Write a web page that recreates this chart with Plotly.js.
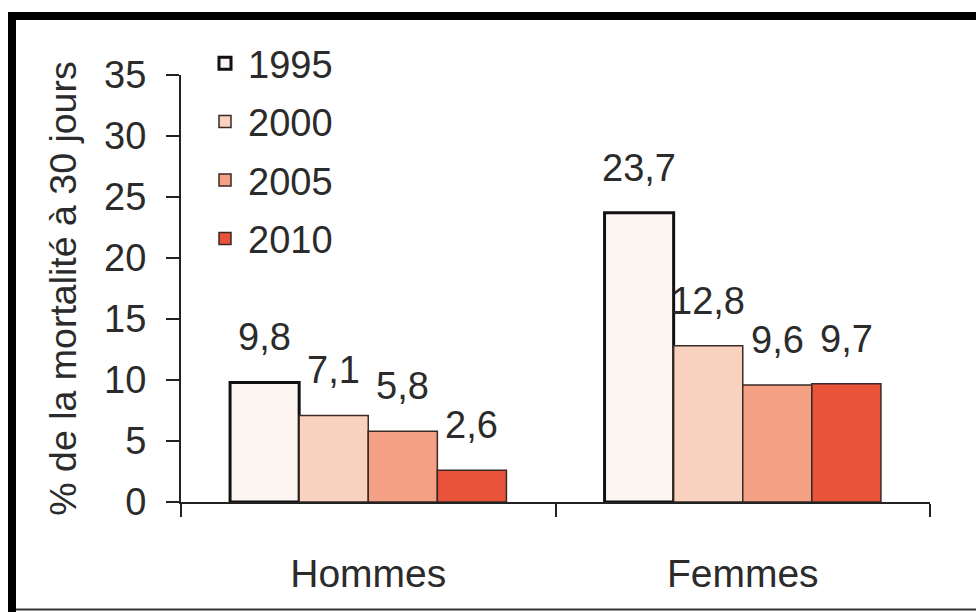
<!DOCTYPE html>
<html>
<head>
<meta charset="utf-8">
<script src="https://cdn.plot.ly/plotly-3.0.1.min.js"></script>
<style>html,body{margin:0;padding:0;background:#fff;}#chart{width:976px;height:612px;}</style>
</head>
<body>
<div id="chart"></div>
<script>
var categories = ['Hommes', 'Femmes'];
var years = ['1995', '2000', '2005', '2010'];
var values1995 = [9.8, 23.7];
var values2000 = [7.1, 12.8];
var values2005 = [5.8, 9.6];
var values2010 = [2.6, 9.7];
var yTickVals = [0, 5, 10, 15, 20, 25, 30, 35];
var yTitle = '% de la mortalité à 30 jours';

var series = [values1995, values2000, values2005, values2010];
var fills = ['#fdf5f2', '#f9d2bf', '#f3a084', '#e9533a'];
var lineCols = ['#111111', '#3a2a26', '#3a2a26', '#3a2a26'];
var lineWidths = [3, 1.5, 1.5, 1.5];

var W = 976, H = 612;
var M = {l: 181, r: 46, t: 75, b: 110};
var pw = W - M.l - M.r, ph = H - M.t - M.b;
function px(x) { return (x - M.l) / pw; }
function py(y) { return (H - M.b - y) / ph; }

var FONT = 'Liberation Sans, Arial, sans-serif';
var TXT = '#2b2b2b';
var bargap = 0.262;

var traces = series.map(function (vals, i) {
  return {
    type: 'bar', x: categories, y: vals, name: years[i],
    legendgroup: 'g' + i,
    marker: {color: fills[i], line: {color: lineCols[i], width: lineWidths[i]}},
    hoverinfo: 'skip'
  };
});

var annotations = [];
var bw = (1 - bargap) / series.length;
series.forEach(function (vals, i) {
  vals.forEach(function (v, c) {
    annotations.push({
      xref: 'x', yref: 'y',
      x: c - (1 - bargap) / 2 + (i + 0.5) * bw,
      y: v, yanchor: 'bottom', xanchor: 'center', yshift: 22,
      text: String(v).replace('.', ','), showarrow: false,
      font: {family: FONT, size: 38, color: TXT}
    });
  });
});

var shapes = [
  {type: 'rect', xref: 'paper', yref: 'paper', x0: px(8), x1: px(976), y0: py(12), y1: py(20), fillcolor: '#000', line: {width: 0}},
  {type: 'rect', xref: 'paper', yref: 'paper', x0: px(8), x1: px(16), y0: py(12), y1: py(612), fillcolor: '#000', line: {width: 0}},
  {type: 'line', xref: 'paper', yref: 'paper', x0: px(16), x1: px(976), y0: py(609.5), y1: py(609.5), line: {color: '#333', width: 2}}
];

var layout = {
  width: W, height: H,
  margin: M,
  paper_bgcolor: '#fff', plot_bgcolor: '#fff',
  font: {family: FONT, size: 38, color: TXT},
  barmode: 'group', bargap: bargap, bargroupgap: 0,
  showlegend: true,
  legend: {
    x: px(202), y: py(32), xanchor: 'left', yanchor: 'top',
    bgcolor: 'rgba(0,0,0,0)', traceorder: 'grouped', tracegroupgap: 6,
    itemwidth: 36,
    font: {family: FONT, size: 38, color: TXT}
  },
  xaxis: {
    type: 'category', showgrid: false, zeroline: false,
    showline: true, linecolor: '#222', linewidth: 2,
    ticks: 'outside', tickson: 'boundaries', ticklen: 13, tickwidth: 2, tickcolor: '#222',
    ticklabelstandoff: 36,
    tickfont: {family: FONT, size: 39, color: TXT}
  },
  yaxis: {
    range: [0, 35], tickvals: yTickVals, showgrid: false, zeroline: false,
    showline: true, linecolor: '#222', linewidth: 2,
    ticks: 'outside', ticklen: 13, tickwidth: 2, tickcolor: '#222',
    ticklabelstandoff: 12,
    tickfont: {family: FONT, size: 38, color: TXT},
    title: {text: yTitle, font: {family: FONT, size: 37.5, color: TXT}, standoff: 16}
  },
  annotations: annotations,
  shapes: shapes
};

Plotly.newPlot('chart', traces, layout, {displayModeBar: false, staticPlot: true});
</script>
</body>
</html>
